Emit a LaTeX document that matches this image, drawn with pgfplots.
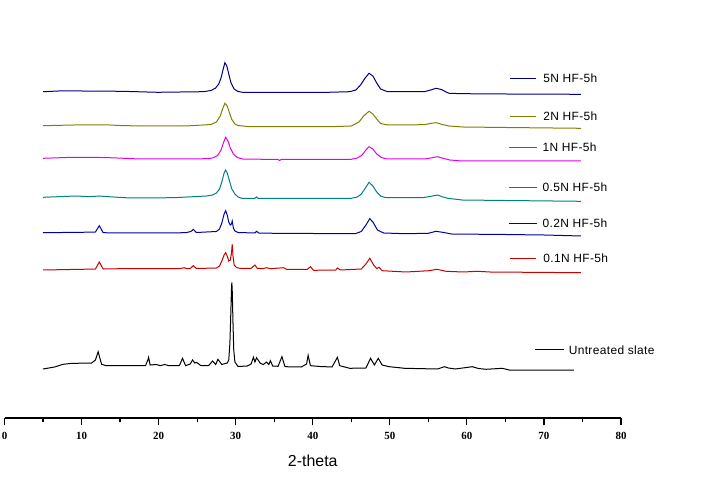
\documentclass[border=0pt]{standalone}
\usepackage{fontspec}
\setmainfont{Liberation Sans}
\newfontfamily\tickfont{Liberation Serif}
\newfontfamily\legfont[LetterSpace=3]{Liberation Sans}
\usepackage{pgfplots}
\pgfplotsset{compat=1.18}
\definecolor{c5n}{RGB}{0,0,128}
\definecolor{c2n}{RGB}{128,128,0}
\definecolor{c1n}{RGB}{230,0,230}
\definecolor{c05n}{RGB}{0,128,128}
\definecolor{c02n}{RGB}{0,0,170}
\definecolor{c01n}{RGB}{200,0,0}
\begin{document}
\begin{tikzpicture}
\useasboundingbox (-4.5bp,-66bp) rectangle (696.5bp,418bp);
\begin{axis}[
  scale only axis, width=616.5bp, height=418bp,
  xmin=0, xmax=80, ymin=0, ymax=418,
  axis x line*=bottom, axis y line=none,
  x axis line style={line width=1.4bp, -},
  xtick={0,10,...,80}, minor x tick num=1,
  tick align=outside,
  major tick length=7bp, minor tick length=4bp,
  every tick/.style={black, line width=1.2bp},
  /pgf/number format/assume math mode=true,
  xticklabel style={font=\tickfont\fontsize{11}{13}\selectfont\bfseries, inner sep=0pt, anchor=north, yshift=-7bp},
  xlabel={2-theta},
  xlabel style={at={(axis description cs:0.5,0)}, anchor=north, yshift=-37bp, inner sep=0pt, font=\fontsize{16}{19}\selectfont},
  clip=false,
  every axis plot/.append style={line width=1bp, mark=none},
]
% Untreated slate
\addplot[black] coordinates {(5.0,49) (6.5,51) (7.6,53.7) (8.8,54.7) (9.4,54.7) (10.5,55) (11.3,55) (11.8,58) (12.15,66.3) (12.6,53.7) (13.2,52.3) (15,52.3) (18.3,52.3) (18.6,58) (18.7,60.7) (18.9,53) (19.7,53.5) (20.2,52.3) (20.8,53.5) (21.3,52.3) (22.7,52.5) (23.1,59.7) (23.5,52.3) (24.1,54) (24.4,58) (24.7,55) (24.9,55.7) (25.5,52.3) (26.5,52.5) (27.0,57) (27.4,53.5) (27.7,58.7) (28.2,53.5) (28.9,55) (29.1,58) (29.25,75) (29.35,100) (29.45,128) (29.5,135.7) (29.55,128) (29.65,95) (29.75,68) (29.9,56) (30.3,51.5) (31.5,52) (32.0,54) (32.3,60.7) (32.5,56) (32.7,60.3) (33.2,54.7) (33.6,53.5) (34.0,56) (34.3,53.5) (34.5,57.3) (34.8,52) (35.5,51.7) (36.0,61.3) (36.4,51.3) (38.5,51) (39.2,54) (39.4,62.7) (39.7,52.3) (41,51.5) (42.5,51) (43.2,60.7) (43.5,52.3) (44.8,49.7) (46.9,50) (47.5,59.7) (48.0,53) (48.5,59.7) (49.0,53) (49.9,51.3) (51.2,50.3) (51.9,49.7) (56.2,49) (57.1,51.3) (57.6,50) (58.5,49) (60.7,51.3) (61.5,49.5) (62.5,48.7) (64.6,49.7) (65.5,48) (73.9,48)};
% 0.1N
\addplot[c01n] coordinates {(5,148) (10,148.7) (11.8,149) (12.3,156) (12.8,149) (15,149.3) (20,149.3) (22.8,149.5) (23.3,150.3) (23.7,149.3) (24.1,149.5) (24.5,152.3) (24.9,149.5) (27.5,150) (27.9,152) (28.2,157) (28.5,163) (28.7,165.3) (28.9,162) (29.1,157) (29.3,158) (29.45,165) (29.55,173.7) (29.65,162) (29.8,153) (30.1,150.5) (30.6,149.5) (32.0,149.7) (32.5,153) (32.8,149.7) (33.5,149.3) (34.0,150.3) (34.5,149.3) (36.2,150.3) (36.6,148.7) (39.3,148.7) (39.7,151.3) (40.1,147.7) (43.0,148) (43.2,150) (43.6,148) (46.3,149) (46.9,154) (47.4,159.7) (47.9,153) (48.3,149.5) (48.6,150.7) (49.0,147.3) (52.1,146) (55.1,147.3) (56.1,148.7) (57.3,146.7) (59.5,146) (61.4,146.7) (63,146) (68,145.7) (74.8,145.3)};
% 0.2N
\addplot[c02n] coordinates {(5,185.3) (10,185.7) (11.8,186) (12.3,192.3) (12.8,185.3) (15,185) (20,185) (23.5,185.3) (24.2,186.5) (24.5,188.7) (24.9,185.5) (27.5,186.5) (27.9,189) (28.2,195) (28.5,204) (28.7,207.3) (28.9,203) (29.1,196) (29.3,193) (29.45,194) (29.55,197) (29.7,190) (29.9,187) (30.3,185.5) (32.5,185) (32.7,186.7) (33.0,185) (35,184.7) (40,184.5) (45.5,184.3) (46.3,186.5) (46.9,193) (47.4,199.3) (47.8,196) (48.4,188) (49.2,185) (52,184.3) (55.0,184.7) (56.0,186.7) (57.0,185.5) (58,184) (65,183.5) (70,183) (74.8,182)};
% 0.5N
\addplot[c05n] coordinates {(5,220.7) (9.3,222) (11,221.3) (12.3,222) (13.5,221.3) (16.3,220) (22,220.3) (26.2,222) (27.0,223) (27.5,225) (27.9,229) (28.2,236) (28.5,245) (28.7,248) (28.9,245) (29.2,237) (29.5,229) (29.9,224) (30.3,221) (30.8,219.7) (32.5,219.7) (32.7,221) (32.9,219.7) (40,219.7) (45,219.7) (45.8,221) (46.3,224) (46.8,229.5) (47.3,235.7) (47.8,232) (48.3,226) (48.8,222) (49.4,220.5) (50,220.3) (54.3,220.3) (55.2,221.5) (56.2,223) (56.9,221) (57.5,219.7) (59.4,218) (65,217.5) (74.8,216.7)};
% 1N
\addplot[c1n] coordinates {(5,259.7) (8,260.5) (11.5,260.7) (14,260.2) (17.6,259) (22,259) (26.5,259.3) (27.2,260.5) (27.7,263) (28.1,268) (28.4,275) (28.7,280.7) (29.0,277) (29.3,270) (29.7,264) (30.2,260.5) (30.9,259) (35.5,258.5) (35.7,257.5) (35.9,258.5) (45,258.7) (45.8,260) (46.4,263) (46.9,268) (47.3,271.3) (47.8,269) (48.3,264) (48.9,260.5) (49.6,259) (54.5,259) (55.3,260) (56.2,261.3) (57,259.5) (57.8,258) (59.4,257) (65,257.2) (74.8,257)};
% 2N
\addplot[c2n] coordinates {(5,292.3) (9,293) (13.7,293) (15.5,292.3) (20,292) (24,292.2) (26.8,293.5) (27.5,296) (28.0,302) (28.3,309) (28.6,314.7) (28.9,312) (29.2,305) (29.5,298.5) (29.9,294) (30.3,292.5) (31.8,291.3) (42.2,291.3) (45,292) (46.0,296) (46.6,302) (47.3,306.7) (47.8,304) (48.3,299) (48.8,294.5) (49.7,293) (54.5,293.3) (55.2,294.5) (56.0,295.3) (56.8,293.5) (57.7,292) (59.5,291) (65,290.5) (74.8,289.7)};
% 5N
\addplot[c5n] coordinates {(5,326.3) (7,327) (10,327) (15.2,326.7) (19.9,325.7) (25.8,326.3) (26.8,327.5) (27.4,330) (27.8,334) (28.1,340) (28.35,348) (28.6,355.3) (28.85,352) (29.1,344) (29.4,335) (29.8,329) (30.3,326.5) (30.9,325.7) (42,325.7) (44.8,326.3) (45.6,328) (46.2,333) (46.8,340) (47.3,344.7) (47.8,342) (48.3,335) (48.8,329) (49.7,326.3) (54.5,326.3) (55.3,328) (56.0,329.7) (56.7,328.5) (57.3,326) (57.7,324.7) (59.5,324.3) (65,324) (74.8,323.7)};
% legend samples
\addplot[c5n] coordinates {(65.6,339.7) (69.0,339.7)};
\addplot[c2n] coordinates {(65.6,301.3) (69.0,301.3)};
\addplot[c1n] coordinates {(65.5,270.7) (69.1,270.7)};
\addplot[c05n] coordinates {(65.5,230.7) (69.1,230.7)};
\addplot[c02n] coordinates {(65.5,194.7) (69.1,194.7)};
\addplot[c01n] coordinates {(65.6,159.7) (69.0,159.7)};
\addplot[black] coordinates {(68.85,68) (72.6,68)};
\node[anchor=west, inner sep=0pt, font=\legfont\fontsize{12}{14}\selectfont] at (axis cs:69.9,339.7) {5N HF-5h};
\node[anchor=west, inner sep=0pt, font=\legfont\fontsize{12}{14}\selectfont] at (axis cs:69.9,301.3) {2N HF-5h};
\node[anchor=west, inner sep=0pt, font=\legfont\fontsize{12}{14}\selectfont] at (axis cs:69.8,270.7) {1N HF-5h};
\node[anchor=west, inner sep=0pt, font=\legfont\fontsize{12}{14}\selectfont] at (axis cs:69.8,230.7) {0.5N HF-5h};
\node[anchor=west, inner sep=0pt, font=\legfont\fontsize{12}{14}\selectfont] at (axis cs:69.8,194.7) {0.2N HF-5h};
\node[anchor=west, inner sep=0pt, font=\legfont\fontsize{12}{14}\selectfont] at (axis cs:69.9,159.7) {0.1N HF-5h};
\node[anchor=west, inner sep=0pt, font=\legfont\fontsize{12}{14}\selectfont] at (axis cs:73.2,68) {Untreated slate};
\end{axis}
\end{tikzpicture}
\end{document}
